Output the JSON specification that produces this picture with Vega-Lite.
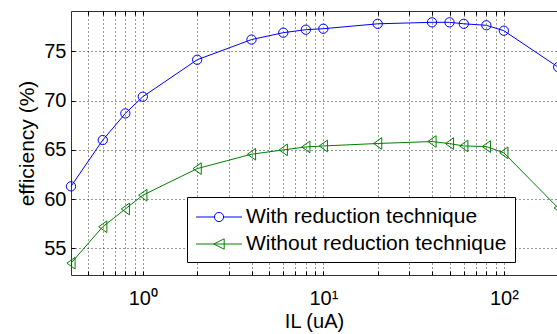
{
  "$schema": "https://vega.github.io/schema/vega-lite/v6.json",
  "width": 486,
  "height": 264,
  "autosize": {"type": "none"},
  "padding": {"left": 71, "top": 11, "right": 0, "bottom": 59},
  "background": "#ffffff",
  "config": {
    "font": "Liberation Sans",
    "view": {"stroke": "#333333", "strokeWidth": 1},
    "axis": {"labelFont": "Liberation Sans", "titleFont": "Liberation Sans", "labelColor": "#000", "titleColor": "#000", "titleFontWeight": "normal"}
  },
  "data": {
    "values": [
      {"IL": 0.4, "eff": 61.3, "series": "With reduction technique"},
      {"IL": 0.6, "eff": 66.0, "series": "With reduction technique"},
      {"IL": 0.8, "eff": 68.7, "series": "With reduction technique"},
      {"IL": 1, "eff": 70.4, "series": "With reduction technique"},
      {"IL": 2, "eff": 74.15, "series": "With reduction technique"},
      {"IL": 4, "eff": 76.2, "series": "With reduction technique"},
      {"IL": 6, "eff": 76.9, "series": "With reduction technique"},
      {"IL": 8, "eff": 77.2, "series": "With reduction technique"},
      {"IL": 10, "eff": 77.3, "series": "With reduction technique"},
      {"IL": 20, "eff": 77.8, "series": "With reduction technique"},
      {"IL": 40, "eff": 77.95, "series": "With reduction technique"},
      {"IL": 50, "eff": 77.95, "series": "With reduction technique"},
      {"IL": 60, "eff": 77.8, "series": "With reduction technique"},
      {"IL": 80, "eff": 77.65, "series": "With reduction technique"},
      {"IL": 100, "eff": 77.1, "series": "With reduction technique"},
      {"IL": 200, "eff": 73.4, "series": "With reduction technique"},
      {"IL": 0.4, "eff": 53.5, "series": "Without reduction technique"},
      {"IL": 0.6, "eff": 57.2, "series": "Without reduction technique"},
      {"IL": 0.8, "eff": 59.0, "series": "Without reduction technique"},
      {"IL": 1, "eff": 60.4, "series": "Without reduction technique"},
      {"IL": 2, "eff": 63.1, "series": "Without reduction technique"},
      {"IL": 4, "eff": 64.56, "series": "Without reduction technique"},
      {"IL": 6, "eff": 65.0, "series": "Without reduction technique"},
      {"IL": 8, "eff": 65.3, "series": "Without reduction technique"},
      {"IL": 10, "eff": 65.4, "series": "Without reduction technique"},
      {"IL": 20, "eff": 65.65, "series": "Without reduction technique"},
      {"IL": 40, "eff": 65.85, "series": "Without reduction technique"},
      {"IL": 50, "eff": 65.64, "series": "Without reduction technique"},
      {"IL": 60, "eff": 65.4, "series": "Without reduction technique"},
      {"IL": 80, "eff": 65.34, "series": "Without reduction technique"},
      {"IL": 100, "eff": 64.7, "series": "Without reduction technique"},
      {"IL": 200, "eff": 59.1, "series": "Without reduction technique"}
    ]
  },
  "resolve": {"axis": {"x": "independent"}},
  "layer": [
    {
      "transform": [{"filter": "datum.series === 'With reduction technique'"}],
      "mark": {"type": "line", "color": "#0000ff", "strokeWidth": 1},
      "encoding": {
        "x": {
          "field": "IL", "type": "quantitative",
          "scale": {"type": "log", "domain": [0.4, 197], "nice": false},
          "axis": {
            "orient": "bottom",
            "values": [0.5, 0.6, 0.7, 0.8, 0.9, 1, 2, 3, 4, 5, 6, 7, 8, 9, 10, 20, 30, 40, 50, 60, 70, 80, 90, 100],
            "labelExpr": "datum.value == 1 ? '10⁰' : datum.value == 10 ? '10¹' : datum.value == 100 ? '10²' : ''",
            "labelFlush": false, "labelOverlap": false, "labelFontSize": 20,
            "labelBaseline": "alphabetic", "labelPadding": 33,
            "grid": true, "gridDash": [1, 3], "gridColor": "#000", "gridOpacity": 0.8,
            "domain": false, "tickSize": -4, "tickColor": "#000",
            "title": "IL (uA)", "titleFontSize": 20, "titleBaseline": "alphabetic", "titleY": 52
          }
        },
        "y": {
          "field": "eff", "type": "quantitative",
          "scale": {"domain": [52.3, 79.1], "nice": false, "zero": false},
          "axis": {
            "values": [55, 60, 65, 70, 75],
            "labelFontSize": 20, "labelPadding": 9,
            "grid": true, "gridDash": [1, 3], "gridColor": "#000", "gridOpacity": 0.8,
            "domain": false, "tickSize": -4, "tickColor": "#000",
            "title": "efficiency (%)", "titleFontSize": 21, "titleBaseline": "alphabetic",
            "titleAngle": -90, "titleAlign": "center", "titleX": -38, "titleY": 132
          }
        }
      }
    },
    {
      "transform": [{"filter": "datum.series === 'Without reduction technique'"}],
      "mark": {"type": "line", "color": "#008000", "strokeWidth": 1},
      "encoding": {
        "x": {"field": "IL", "type": "quantitative", "axis": null},
        "y": {"field": "eff", "type": "quantitative"}
      }
    },
    {
      "transform": [{"filter": "datum.series === 'With reduction technique'"}],
      "mark": {"type": "point", "shape": "circle", "filled": false, "color": "#0000ff", "strokeWidth": 1, "size": 86, "opacity": 1},
      "encoding": {
        "x": {"field": "IL", "type": "quantitative", "axis": null},
        "y": {"field": "eff", "type": "quantitative"}
      }
    },
    {
      "transform": [{"filter": "datum.series === 'Without reduction technique'"}],
      "mark": {"type": "point", "shape": "M-0.7,0L0.7,-1L0.7,1Z", "filled": false, "color": "#008000", "strokeWidth": 1, "size": 137, "opacity": 1},
      "encoding": {
        "x": {"field": "IL", "type": "quantitative", "axis": null},
        "y": {"field": "eff", "type": "quantitative"}
      }
    },
    {
      "mark": {"type": "point", "filled": false, "opacity": 0, "strokeWidth": 1, "size": 529},
      "encoding": {
        "x": {
          "field": "IL", "type": "quantitative",
          "axis": {
            "orient": "top", "labels": false, "domain": false, "grid": false, "title": null,
            "values": [0.5, 0.6, 0.7, 0.8, 0.9, 1, 2, 3, 4, 5, 6, 7, 8, 9, 10, 20, 30, 40, 50, 60, 70, 80, 90, 100],
            "tickSize": -4, "tickColor": "#000"
          }
        },
        "y": {"field": "eff", "type": "quantitative"},
        "color": {
          "field": "series", "type": "nominal",
          "scale": {"domain": ["With reduction technique", "Without reduction technique"], "range": ["#0000ff", "#008000"]},
          "legend": {
            "orient": "none", "legendX": 116, "legendY": 186, "title": null,
            "padding": 8, "fillColor": "#ffffff", "strokeColor": "#000000",
            "labelFont": "Liberation Sans", "labelFontSize": 21, "labelColor": "#000", "labelLimit": 400,
            "symbolOffset": 12, "labelOffset": 15, "rowPadding": 5, "symbolSize": 529, "symbolStrokeWidth": 1, "symbolOpacity": 1
          }
        },
        "shape": {
          "field": "series", "type": "nominal",
          "scale": {
            "domain": ["With reduction technique", "Without reduction technique"],
            "range": ["M-2,0H-0.4M0.4,0H2M0.4,0A0.4,0.4,0,1,1,-0.4,0A0.4,0.4,0,1,1,0.4,0", "M-2,0H2M-0.45,0L0.45,-0.45L0.45,0.45Z"]
          },
          "legend": {
            "orient": "none", "legendX": 116, "legendY": 186, "title": null,
            "padding": 8, "fillColor": "#ffffff", "strokeColor": "#000000",
            "labelFont": "Liberation Sans", "labelFontSize": 21, "labelColor": "#000", "labelLimit": 400,
            "symbolOffset": 12, "labelOffset": 15, "rowPadding": 5, "symbolSize": 529, "symbolStrokeWidth": 1, "symbolOpacity": 1
          }
        }
      }
    }
  ]
}
